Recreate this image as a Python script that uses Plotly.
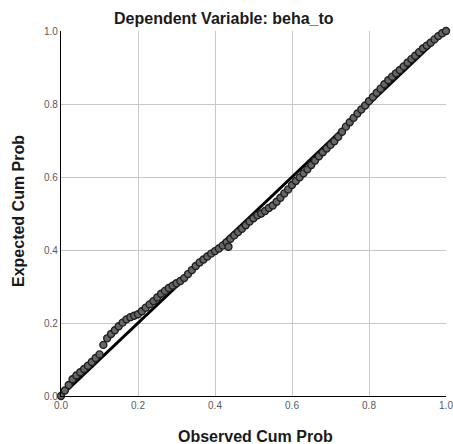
import plotly.graph_objects as go

observed = [0.00, 0.01, 0.02, 0.03, 0.04, 0.05, 0.06, 0.07, 0.08, 0.09,
            0.10, 0.11, 0.12, 0.13, 0.14, 0.15, 0.16, 0.17, 0.18, 0.19,
            0.20, 0.21, 0.22, 0.23, 0.24, 0.25, 0.26, 0.27, 0.28, 0.29,
            0.30, 0.31, 0.32, 0.33, 0.34, 0.35, 0.36, 0.37, 0.38, 0.39,
            0.40, 0.41, 0.42, 0.43, 0.435, 0.44, 0.45, 0.46, 0.47, 0.48, 0.49,
            0.50, 0.51, 0.52, 0.53, 0.54, 0.55, 0.56, 0.57, 0.58, 0.59,
            0.60, 0.61, 0.62, 0.63, 0.64, 0.65, 0.66, 0.67, 0.68, 0.69,
            0.70, 0.71, 0.72, 0.73, 0.74, 0.75, 0.76, 0.77, 0.78, 0.79,
            0.80, 0.81, 0.82, 0.83, 0.84, 0.85, 0.86, 0.87, 0.88, 0.89,
            0.90, 0.91, 0.92, 0.93, 0.94, 0.95, 0.96, 0.97, 0.98, 0.99, 1.00]
expected = [0.000, 0.015, 0.030, 0.046, 0.056, 0.065, 0.074, 0.083, 0.093, 0.104,
            0.114, 0.140, 0.158, 0.170, 0.180, 0.191, 0.201, 0.210, 0.216, 0.220,
            0.224, 0.232, 0.242, 0.251, 0.260, 0.270, 0.280, 0.288, 0.296, 0.302,
            0.309, 0.315, 0.323, 0.334, 0.345, 0.356, 0.366, 0.374, 0.382, 0.390,
            0.397, 0.404, 0.412, 0.421, 0.409, 0.431, 0.440, 0.449, 0.458, 0.468, 0.478,
            0.487, 0.495, 0.500, 0.507, 0.515, 0.522, 0.532, 0.543, 0.555, 0.566,
            0.578, 0.589, 0.599, 0.610, 0.621, 0.633, 0.645, 0.657, 0.668, 0.678,
            0.688, 0.698, 0.710, 0.724, 0.738, 0.750, 0.762, 0.774, 0.785, 0.796,
            0.808, 0.819, 0.831, 0.842, 0.854, 0.865, 0.875, 0.884, 0.893, 0.903,
            0.913, 0.923, 0.932, 0.942, 0.952, 0.960, 0.968, 0.977, 0.986, 0.994, 1.000]
ref_line = [0.0, 1.0]
ticks = [0.0, 0.2, 0.4, 0.6, 0.8, 1.0]
tick_text = ["0.0", "0.2", "0.4", "0.6", "0.8", "1.0"]

fig = go.Figure()
fig.add_trace(go.Scatter(
    x=ref_line, y=ref_line, mode="lines",
    line=dict(color="black", width=3),
    showlegend=False, hoverinfo="skip"))
fig.add_trace(go.Scatter(
    x=observed, y=expected, mode="markers",
    marker=dict(size=7, color="#666666", line=dict(color="#1e1e1e", width=1.4)),
    showlegend=False, hoverinfo="skip", cliponaxis=False))

axis_common = dict(range=[0, 1], tickvals=ticks, ticktext=tick_text,
                   showgrid=True, gridcolor="#c8c8c8", gridwidth=1,
                   zeroline=False, showline=True, linecolor="black", linewidth=1.2,
                   ticks="", automargin=False,
                   tickfont=dict(family="Liberation Sans, Arial", size=10, color="#5a5a5a"))

fig.update_layout(
    width=453, height=444,
    margin=dict(l=61, r=7, t=31, b=48, autoexpand=False),
    paper_bgcolor="white", plot_bgcolor="white",
    xaxis=dict(**axis_common, ticklabeloverflow="allow"),
    yaxis=dict(**axis_common),
    font=dict(family="Liberation Sans, Arial"),
    annotations=[
        dict(text="<b>Dependent Variable: beha_to</b>", xref="paper", yref="paper",
             x=(224 - 61) / 385, y=(396 - 18) / 365, showarrow=False,
             font=dict(size=16, color="#1a1a1a"), xanchor="center", yanchor="middle"),
        dict(text="<b>Observed Cum Prob</b>", xref="paper", yref="paper",
             x=(256 - 61) / 385, y=(396 - 436) / 365, showarrow=False,
             font=dict(size=16, color="#1a1a1a"), xanchor="center", yanchor="middle"),
        dict(text="<b>Expected Cum Prob</b>", xref="paper", yref="paper",
             x=(18 - 61) / 385, y=(396 - 211) / 365, showarrow=False, textangle=-90,
             font=dict(size=16, color="#1a1a1a"), xanchor="center", yanchor="middle"),
    ],
)

fig.write_html("out.html", config={"displayModeBar": False},
               post_script="document.body.style.margin='0';document.body.style.overflow='hidden';")
